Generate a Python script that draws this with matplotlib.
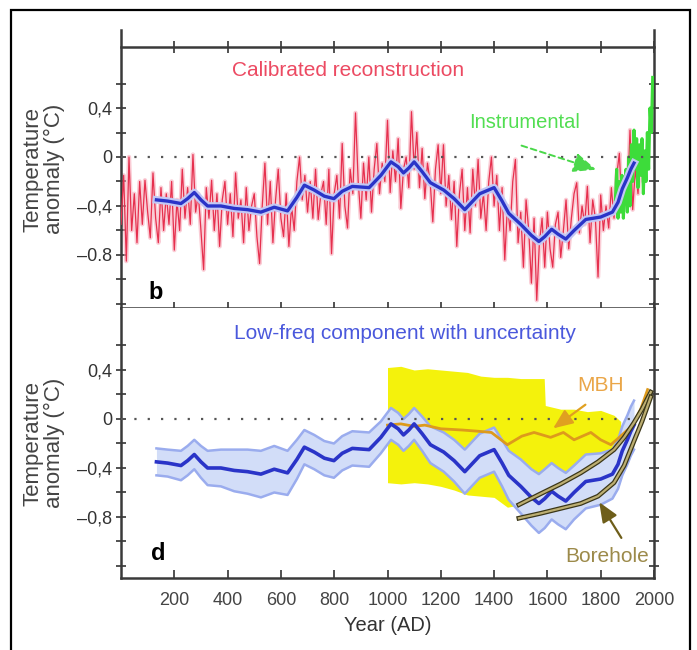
import numpy as np
import matplotlib
matplotlib.use("Agg")
import matplotlib.pyplot as plt
import matplotlib.patheffects as pe
from matplotlib.patches import Rectangle

plt.rcParams['font.family'] = ['Liberation Sans', 'DejaVu Sans']

# ---- data ----
# calibrated reconstruction (decadal samples, 0..1970 AD)
red_years = np.arange(0, 1980, 10)
red_vals = [
    -0.55, -0.15, -0.85, 0.0, -0.6, -0.3, -0.7, -0.2, -0.55, -0.19,
    -0.45, -0.66, -0.13, -0.5, -0.7, -0.25, -0.6, -0.3, -0.55, -0.2,
    -0.76, -0.35, -0.6, -0.1, -0.5, -0.25, -0.55, 0.02, -0.45, -0.3,
    -0.6, -0.92, -0.25, -0.5, -0.19, -0.6, -0.3, -0.73, -0.35, -0.2,
    -0.55, -0.3, -0.65, -0.13, -0.5, -0.35, -0.7, -0.25, -0.6, -0.4,
    -0.3, -0.65, -0.87, -0.4, -0.05, -0.55, -0.2, -0.7, -0.35, -0.1,
    -0.5, -0.65, -0.3, -0.73, -0.4, -0.6, -0.2, 0.0, -0.35, -0.15,
    -0.45, -0.2, -0.5, -0.1, -0.51, -0.3, -0.2, -0.55, -0.1, -0.79,
    -0.3, -0.15, -0.5, 0.11, -0.4, -0.58, -0.1, -0.3, 0.36, -0.2,
    -0.5, -0.05, -0.35, 0.0, -0.45, -0.1, 0.11, -0.3, -0.05, -0.2,
    0.30, -0.29, 0.05, -0.2, 0.15, -0.42, -0.1, 0.0, -0.25, 0.37,
    -0.1, 0.2, -0.25, 0.07, -0.34, -0.05, -0.2, -0.53, -0.1, 0.1,
    -0.3, 0.1, -0.4, -0.15, -0.51, -0.2, -0.73, -0.3, -0.1, -0.6,
    -0.25, -0.62, -0.1, -0.4, -0.02, -0.5, -0.3, -0.6, -0.2, 0.0,
    -0.4, -0.15, -0.6, -0.25, -0.84, -0.4, -0.6, -0.2, -0.02, -0.7,
    -0.45, -0.9, -0.35, -0.6, -1.03, -0.5, -1.17, -0.7, -0.5, -0.9,
    -0.45, -0.75, -0.9, -0.55, -0.45, -0.82, -0.6, -0.35, -0.75, -0.5,
    -0.3, -0.21, -0.62, -0.4, -0.55, -0.24, -0.7, -0.35, -0.5, -0.98,
    -0.31, -0.6, -0.4, -0.58, -0.25, -0.5, -0.15, 0.03, -0.45, -0.2,
    -0.35, 0.22, -0.43, -0.1, -0.3, 0.05, -0.2, -0.1,
]

# instrumental record
inst_years = np.arange(1855, 2000, 5)
inst_vals = [-0.35, -0.1, -0.5, -0.2, -0.45, -0.15, -0.5, -0.3, -0.1, -0.45,
             0.0, -0.4, 0.1, -0.2, 0.22, -0.1, 0.15, -0.25, 0.1, -0.15,
             0.15, -0.3, 0.05, -0.2, 0.2, -0.1, 0.4, 0.2, 0.65]

# low-frequency component and its uncertainty half-width
lf_years = [133, 175, 225, 250, 275, 300, 325, 375, 425, 475, 525, 575, 625,
            660, 688, 725, 763, 799, 830, 868, 931, 975, 1013, 1040, 1060, 1080,
            1100, 1130, 1161, 1211, 1250, 1290, 1320, 1346, 1400, 1430, 1455,
            1500, 1540, 1568, 1590, 1616, 1640, 1669, 1700, 1744, 1800, 1844,
            1865, 1881, 1900, 1913, 1925]
lf_vals = [-0.35, -0.36, -0.38, -0.34, -0.29, -0.35, -0.40, -0.40, -0.42, -0.43,
           -0.45, -0.41, -0.44, -0.33, -0.23, -0.27, -0.32, -0.34, -0.28, -0.24,
           -0.25, -0.15, -0.04, -0.08, -0.13, -0.09, -0.04, -0.12, -0.21, -0.27,
           -0.34, -0.43, -0.36, -0.30, -0.25, -0.36, -0.46, -0.55, -0.64, -0.69,
           -0.65, -0.59, -0.63, -0.67, -0.60, -0.51, -0.49, -0.45, -0.37, -0.26,
           -0.17, -0.10, -0.05]
lf_err = [0.11, 0.11, 0.12, 0.12, 0.12, 0.13, 0.14, 0.15, 0.17, 0.18,
          0.19, 0.19, 0.18, 0.16, 0.14, 0.14, 0.14, 0.14, 0.14, 0.14,
          0.14, 0.13, 0.13, 0.13, 0.13, 0.13, 0.13, 0.14, 0.15, 0.16,
          0.17, 0.18, 0.18, 0.18, 0.18, 0.19, 0.2, 0.22, 0.23, 0.24,
          0.24, 0.23, 0.23, 0.23, 0.22, 0.22, 0.21, 0.2, 0.2, 0.2,
          0.2, 0.2, 0.2]

# yellow envelope
env_years = [1000, 1050, 1100, 1150, 1200, 1250, 1300, 1350, 1400, 1450, 1500,
             1550, 1588, 1592, 1650, 1700, 1750, 1800, 1850, 1875]
env_upper = [0.42, 0.43, 0.40, 0.41, 0.40, 0.39, 0.38, 0.35, 0.34, 0.34, 0.33,
             0.33, 0.33, 0.11, 0.08, 0.08, 0.06, 0.07, 0.03, -0.02]
env_lower = [-0.52, -0.53, -0.52, -0.53, -0.55, -0.58, -0.62, -0.63, -0.64, -0.72,
             -0.70, -0.55, -0.50, -0.50, -0.48, -0.45, -0.42, -0.40, -0.35, -0.30]

# MBH
mbh_years = [1000, 1050, 1100, 1140, 1200, 1280, 1340, 1390, 1450, 1504, 1550,
             1612, 1660, 1700, 1763, 1800, 1838, 1875, 1920, 1950, 1976]
mbh_vals = [-0.05, -0.04, -0.06, -0.05, -0.08, -0.09, -0.10, -0.11, -0.21, -0.14,
            -0.11, -0.15, -0.11, -0.17, -0.11, -0.17, -0.21, -0.14, -0.05, 0.08, 0.24]

# borehole (upper and lower)
bh_years = [1493, 1575, 1650, 1725, 1790, 1850, 1888, 1925, 1955, 1988]
bh_upper = [-0.70, -0.61, -0.53, -0.44, -0.35, -0.25, -0.15, -0.03, 0.08, 0.22]
bh_lower = [-0.81, -0.77, -0.73, -0.69, -0.63, -0.52, -0.38, -0.18, -0.02, 0.18]

xticks = [200, 400, 600, 800, 1000, 1200, 1400, 1600, 1800, 2000]
yticks = [-0.8, -0.4, 0, 0.4]

RED = '#e6304e'
BLUE = '#2a34c8'
GREEN = '#3ddc3a'

fig = plt.figure(figsize=(6.97, 6.5), dpi=100)
L, W = 121 / 697, 533 / 697
ax1 = fig.add_axes([L, 342 / 650, W, 278 / 650])
ax2 = fig.add_axes([L, 72 / 650, W, 270 / 650])

for ax in (ax1, ax2):
    ax.set_xlim(0, 2000)
    ax.set_xticks(xticks)
    ax.set_yticks(yticks)
    ax.set_yticks([-1.2, -1.0, -0.6, -0.2, 0.2, 0.6], minor=True)
    ax.tick_params(axis='y', which='both', direction='inout', length=7,
                   width=1.2, right=True, labelsize=13, pad=3, colors='#333')
    for s in ax.spines.values():
        s.set_linewidth(1.8)
        s.set_color('#3a3a3a')
    ax.axhline(0, color='#555555', lw=1.6, ls=(0, (1, 5)), zorder=6)

ax1.set_ylim(-1.233, 1.037)
ax2.set_ylim(-1.298, 0.906)
ax1.set_yticklabels(['\u20130.8', '\u20130,4', '0', '0,4'])
ax2.set_yticklabels(['\u20130,8', '\u20130,4', '0', '0,4'])

ax1.spines['top'].set_visible(False)
ax1.tick_params(axis='x', direction='inout', length=8, width=1.2,
                labelbottom=False, colors='#333')
ax2.spines['top'].set_visible(False)
ax2.tick_params(axis='x', direction='in', length=6, width=1.2, labelsize=13,
                pad=10, colors='#333')

# the boxed top of panel b sits a little below the spines' top end
sec = ax1.secondary_xaxis(261 / 278)
sec.set_xticks(xticks)
sec.set_xticklabels([])
sec.tick_params(direction='inout', length=8, width=1.2, colors='#333')
sec.spines['top'].set_linewidth(1.8)
sec.spines['top'].set_color('#3a3a3a')

# ---- panel b ----
ax1.plot(red_years, red_vals, color='#f6a3b3', lw=3.2, alpha=0.55, zorder=2)
ax1.plot(red_years, red_vals, color=RED, lw=0.9, zorder=3)
ax1.plot(inst_years, inst_vals, color=GREEN, lw=2.2, zorder=4)
ax1.plot(lf_years, lf_vals, color='#c3c8f4', lw=5.5, zorder=5,
         solid_joinstyle='round')
ax1.plot(lf_years, lf_vals, color=BLUE, lw=2.4, zorder=5, solid_joinstyle='round')

ax1.text(851, 0.71, 'Calibrated reconstruction', color='#ec4a62', fontsize=15,
         ha='center', va='center')
ax1.text(1515, 0.28, 'Instrumental', color='#52de52', fontsize=14.5,
         ha='center', va='center')
ax1.annotate('', xy=(1793, -0.11), xytext=(1493, 0.10),
             arrowprops=dict(arrowstyle='-|>,head_length=1.4,head_width=0.6',
                             color='#4ad84a', lw=1.4, ls=(0, (3, 2))), zorder=7)
ax1.text(131, -1.11, 'b', fontsize=17, fontweight='bold', ha='center', va='center')
ax1.set_ylabel('Temperature\nanomaly (\u00b0C)', fontsize=16, color='#444',
               linespacing=1.05)
ax1.yaxis.set_label_coords(-0.105, 0.5)

# ---- panel d ----
ax2.fill_between(env_years, env_lower, env_upper, color='#f4f20c', lw=0, zorder=1)
lo = np.array(lf_vals) - np.array(lf_err)
hi = np.array(lf_vals) + np.array(lf_err)
ax2.fill_between(lf_years, lo, hi, color='#d2ddf8', lw=0, zorder=2)
ax2.plot(lf_years, lo, color='#9aacee', lw=1.8, zorder=3, solid_joinstyle='round')
ax2.plot(lf_years, hi, color='#9aacee', lw=1.8, zorder=3, solid_joinstyle='round')
ax2.plot(mbh_years, mbh_vals, color='#dd9a1c', lw=2.0, zorder=4)
ax2.plot(lf_years, lf_vals, color=BLUE, lw=2.6, zorder=5, solid_joinstyle='round')
bh_fx = [pe.Stroke(linewidth=3.4, foreground='#3a3618'), pe.Normal()]
ax2.plot(bh_years, bh_upper, color='#bcae72', lw=1.6, zorder=6, path_effects=bh_fx)
ax2.plot(bh_years, bh_lower, color='#bcae72', lw=1.6, zorder=6, path_effects=bh_fx)

ax2.text(1065, 0.70, 'Low-freq component with uncertainty', color='#4a58dc',
         fontsize=15, ha='center', va='center')
ax2.text(1800, 0.27, 'MBH', color='#eaa648', fontsize=15, ha='center', va='center')
ax2.text(1823, -1.12, 'Borehole', color='#9c8a4a', fontsize=15, ha='center',
         va='center')
ax2.annotate('', xy=(1613, -0.09), xytext=(1751, 0.13),
             arrowprops=dict(arrowstyle='-|>,head_length=1.2,head_width=0.5',
                             color='#e0a020', lw=1.6), zorder=7)
ax2.annotate('', xy=(1789, -0.66), xytext=(1883, -0.99),
             arrowprops=dict(arrowstyle='-|>,head_length=1.2,head_width=0.5',
                             color='#6e5e1a', lw=1.6), zorder=7)
ax2.text(139, -1.10, 'd', fontsize=17, fontweight='bold', ha='center', va='center')
ax2.set_ylabel('Temperature\nanomaly (\u00b0C)', fontsize=16, color='#444',
               linespacing=1.05)
ax2.yaxis.set_label_coords(-0.105, 0.5)
ax2.set_xlabel('Year (AD)', fontsize=14.5, color='#333', labelpad=5)
for lab in ax2.get_xticklabels():
    lab.set_color('#444')

# outer frame around the whole figure
fig.patches.append(Rectangle((11 / 697, -0.05), 679 / 697, 640 / 650 + 0.05,
                             transform=fig.transFigure, fill=False,
                             lw=1.6, ec='black'))

fig.savefig('out.png', dpi=100)
